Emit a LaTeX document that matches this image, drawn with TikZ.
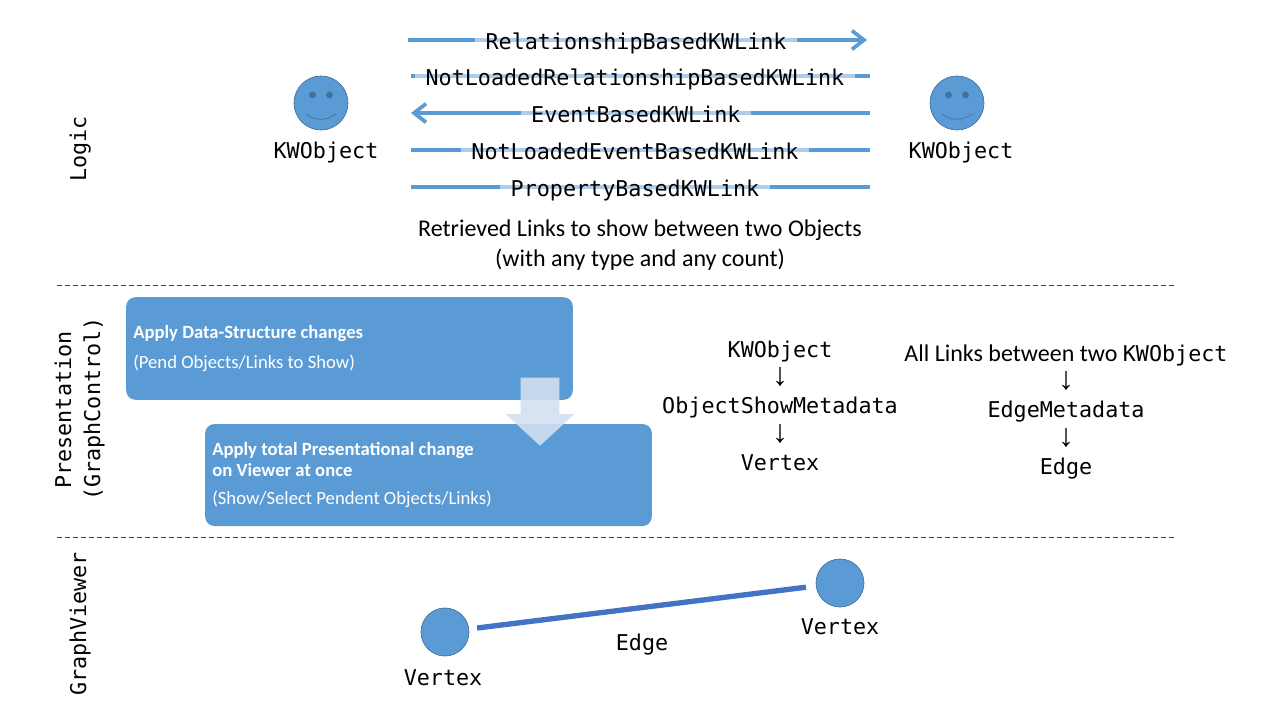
\documentclass[tikz,border=0pt]{standalone}
\usepackage{fontspec}
\setmainfont{Carlito}
\setmonofont{DejaVu Sans Mono}
\newfontfamily\arrowfont{Liberation Sans}
\usetikzlibrary{shapes.arrows, arrows.meta, positioning}
\definecolor{kwblue}{HTML}{5B9BD5}
\definecolor{kwborder}{HTML}{41719C}
\definecolor{kwedge}{HTML}{4472C4}
\definecolor{kwarrow}{HTML}{D2DFF0}

\begin{document}
\begin{tikzpicture}[
  x=0.75pt, y=-0.75pt,
  node distance=5pt,
  >={Straight Barb[length=9pt, width=14pt]},
  monotext/.style={font=\ttfamily\fontsize{16.3}{20}\selectfont, inner sep=0pt, text height=14pt, text depth=2pt},
  downtext/.style={monotext, font=\arrowfont\fontsize{24}{24}\selectfont},
  linkline/.style={draw=kwblue, line width=2.8pt},
  linklabel/.style={monotext, fill=white, fill opacity=0.5, text opacity=1, inner xsep=8pt, inner ysep=0pt, yshift=-1pt},
  face/.style={circle, draw=kwborder, fill=kwblue, line width=0.5pt, minimum size=40.5pt, inner sep=0pt},
  vertexdot/.style={circle, draw=kwborder, fill=kwblue, line width=0.5pt, minimum size=36pt, inner sep=0pt},
  stage/.style={rectangle, rounded corners=7pt, fill=kwblue, minimum width=335pt, text=white, inner sep=0pt},
  stagetext/.style={text=white, align=left, anchor=west, inner sep=0pt, font=\fontsize{14}{16}\selectfont},
  sidetitle/.style={monotext, rotate=90},
  divider/.style={dash pattern=on 4pt off 2pt, line width=0.5pt, draw=black!75},
  plaintext/.style={font=\fontsize{18}{22}\selectfont, align=center, inner sep=0pt}
]
\useasboundingbox (0,0) rectangle (1280,720);

% logic links
\coordinate (relStart) at (408,40);
\coordinate (relEnd) at (867,40);
\coordinate (nrelStart) at (411,76);
\coordinate (nrelEnd) at (870,76);
\coordinate (evtStart) at (411,113);
\coordinate (evtEnd) at (870,113);
\coordinate (nevtStart) at (411,150);
\coordinate (nevtEnd) at (870,150);
\coordinate (propStart) at (411,187);
\coordinate (propEnd) at (870,187);

\draw[linkline, ->] (relStart) -- node[linklabel, pos=0.497] (rel) {RelationshipBasedKWLink} (relEnd);
\draw[linkline] (nrelStart) -- node[linklabel, pos=0.488] (nrel) {NotLoadedRelationshipBasedKWLink} (nrelEnd);
\draw[linkline, <-] (evtStart) -- node[linklabel, pos=0.49] (evt) {EventBasedKWLink} (evtEnd);
\draw[linkline] (nevtStart) -- node[linklabel, pos=0.488] (nevt) {NotLoadedEventBasedKWLink} (nevtEnd);
\draw[linkline] (propStart) -- node[linklabel, pos=0.488] (prop) {PropertyBasedKWLink} (propEnd);

% the two objects
\foreach \name/\x in {objA/321, objB/957} {
  \node[face] (\name) at (\x,103) {};
  \fill[kwborder] (\x-8.5,95) circle (2.6pt);
  \fill[kwborder] (\x+8.5,95) circle (2.6pt);
  \draw[kwborder, line width=0.5pt] (\x-15,114) .. controls (\x-6,121) and (\x+6,121) .. (\x+15,114);
}
\node[monotext] (objAtext) at (326,151) {KWObject};
\node[monotext] (objBtext) at (961,151) {KWObject};

\node[plaintext] (retrieved) at (640,245) {Retrieved Links to show between two Objects\\(with any type and any count)};

% dividers
\coordinate (divAl) at (57,285);
\coordinate (divAr) at (1176,285);
\coordinate (divBl) at (57,537);
\coordinate (divBr) at (1176,537);
\draw[divider] (divAl) -- (divAr);
\draw[divider] (divBl) -- (divBr);

% side titles
\node[sidetitle] (logic) at (78,149) {Logic};
\node[sidetitle] (presentation) at (63,410) {Presentation};
\node[sidetitle] (graphcontrol) at (92,409) {(GraphControl)};
\node[sidetitle] (viewer) at (78,624) {GraphViewer};

% presentation boxes
\node[stage, minimum height=77pt] (pend) at (349.5,348.5) {};
\node[stage, minimum height=76.5pt] (apply) at (428.5,475) {};
\node[stagetext] (pendtext) at (133,348.5) {\textbf{Apply Data-Structure changes}\\[6pt](Pend Objects/Links to Show)};
\node[stagetext] (applytext) at (212,475) {\textbf{Apply total Presentational change}\\\textbf{on Viewer at once}\\[5pt](Show/Select Pendent Objects/Links)};
\node[single arrow, rotate=270, anchor=tip, fill=kwarrow, fill opacity=0.89, inner xsep=0pt, inner ysep=14.25pt, minimum height=51pt, single arrow head extend=11.25pt, single arrow tip angle=95] (pendarrow) at (540,446) {};

% metadata columns
\node[monotext] (colAa) at (780,349) {KWObject};
\node[downtext, below=of colAa] (colAb) {↓};
\node[monotext, below=of colAa, yshift=-21pt] (colAc) {ObjectShowMetadata};
\node[downtext, below=of colAc] (colAd) {↓};
\node[monotext, below=of colAc, yshift=-21pt] (colAe) {Vertex};

\node[monotext] (colBa) at (1066,353) {{\rmfamily\fontsize{18}{20}\selectfont All Links between two }KWObject};
\node[downtext, below=of colBa] (colBb) {↓};
\node[monotext, below=of colBa, yshift=-21pt] (colBc) {EdgeMetadata};
\node[downtext, below=of colBc] (colBd) {↓};
\node[monotext, below=of colBc, yshift=-21pt] (colBe) {Edge};

% graph viewer
\node[vertexdot] (vertexA) at (445,632) {};
\node[vertexdot] (vertexB) at (840,583) {};
\node[monotext, below=7.7pt of vertexA, xshift=-1.5pt] (vertexAtext) {Vertex};
\node[monotext, below=6.2pt of vertexB] (vertexBtext) {Vertex};
\draw[kwedge, line width=4pt, shorten <=6pt, shorten >=7.5pt] (vertexA) -- (vertexB);
\node[monotext] (edgetext) at (642,642) {Edge};
\end{tikzpicture}
\end{document}
